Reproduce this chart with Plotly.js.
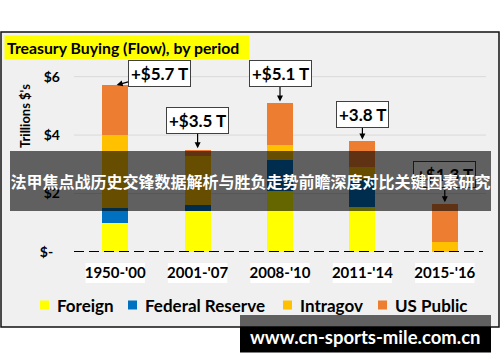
<!DOCTYPE html>
<html>
<head>
<meta charset="utf-8">
<script src="https://cdn.plot.ly/plotly-3.0.1.min.js"></script>
<style>
  html, body { margin: 0; padding: 0; background: #ffffff; }
  #chart { width: 500px; height: 362px; }
</style>
</head>
<body>
<div id="chart"></div>
<script>
// Treasury buying (flow) by period, trillions of dollars, stacked by buyer
const periods = ["1950-'00", "2001-'07", "2008-'10", "2011-'14", "2015-'16"];
const foreign = [1.0, 1.4, 2.1, 1.55, 0];
const fedReserve = [0.5, 0.2, 1.05, 0.95, 0];
const intragov = [2.5, 1.7, 0.52, 0.4, 0.35];
const usPublic = [1.7, 0.2, 1.43, 0.9, 1.3];
const seriesNames = ["Foreign", "Federal Reserve", "Intragov", "US Public"];
const flowLabels = ["+$5.7 T", "+$3.5 T", "+$5.1 T", "+3.8 T", "+$1.3 T"];
const yTickVals = [0, 2, 4, 6];
const yTickText = ["$-\u00a0\u00a0", "$2", "$4", "$6"];
const chartTitle = "Treasury Buying (Flow), by period";
const yTitle = "Trillions $'s";
const bannerText = "法甲焦点战历史交锋数据解析与胜负走势前瞻深度对比关键因素研究";
const siteText = "www.cn-sports-mile.com.cn";

const seriesValues = [foreign, fedReserve, intragov, usPublic];
const seriesColors = ["#ffff00", "#0070c0", "#ffc000", "#ed7d31"];

// canvas geometry (pixels) and pixel -> paper helpers
const W = 500, H = 362;
const M = { l: 74, r: 14, t: 62, b: 110 };
const PW = W - M.l - M.r, PH = H - M.t - M.b;
const px = x => (x - M.l) / PW;
const py = y => (H - M.b - y) / PH;

const boldFont = (size, color) => ({ family: "Lato, 'DejaVu Sans', sans-serif", size: size, weight: "bold", color: color || "#000000" });

const traces = seriesValues.map((vals, k) => ({
  type: "bar",
  x: periods,
  y: vals,
  name: seriesNames[k],
  marker: { color: seriesColors[k], line: { width: 0 } },
  showlegend: false,
  hoverinfo: "skip"
}));

const totals = periods.map((_, i) => seriesValues.reduce((s, arr) => s + arr[i], 0));

// callout offsets (pixels) from each bar top to its label box
const calloutOffsets = [[44, -12], [0, -29], [0, -29], [0, -26], [0, -29]];

const shapes = [];
// chart frame
shapes.push({ type: "rect", xref: "paper", yref: "paper", x0: px(1), x1: px(499), y0: py(327), y1: py(32),
  fillcolor: "#f0f0f0", line: { color: "#111111", width: 1.5 }, layer: "below" });
// horizontal gridlines
yTickVals.filter(v => v > 0).forEach(v => {
  shapes.push({ type: "line", xref: "paper", yref: "y", x0: 0, x1: 1, y0: v, y1: v,
    line: { color: "#d9d9d9", width: 1 }, layer: "below" });
});
// white plates behind the period labels
periods.forEach((p, i) => {
  shapes.push({ type: "rect", xref: "x", yref: "paper", x0: i - 0.36, x1: i + 0.36, y0: py(283), y1: py(263),
    fillcolor: "#ffffff", line: { width: 0 }, layer: "below" });
});
// dashed baseline
shapes.push({ type: "line", xref: "paper", yref: "y", x0: 0, x1: px(483), y0: 0, y1: 0,
  line: { color: "#000000", width: 2, dash: "10px,5px" }, layer: "above" });
// legend swatches
const legendX = [40, 128, 283, 378];
legendX.forEach((x, k) => {
  shapes.push({ type: "rect", xref: "paper", yref: "paper", x0: px(x), x1: px(x + 9), y0: py(309.5), y1: py(300.5),
    fillcolor: seriesColors[k], line: { width: 0 }, layer: "above" });
});
// site banner
shapes.push({ type: "rect", xref: "paper", yref: "paper", x0: px(240), x1: px(491), y0: py(327), y1: py(315),
  fillcolor: "rgba(0,0,0,0.6)", line: { width: 0 }, layer: "above" });
shapes.push({ type: "rect", xref: "paper", yref: "paper", x0: px(240), x1: px(491), y0: py(352.5), y1: py(327),
  fillcolor: "#000000", line: { width: 0 }, layer: "above" });

const annotations = [];
// value callouts
periods.forEach((p, i) => {
  annotations.push({
    x: i, y: totals[i], xref: "x", yref: "y",
    text: flowLabels[i],
    showarrow: true, ax: calloutOffsets[i][0], ay: calloutOffsets[i][1],
    arrowhead: 2, arrowsize: 1, arrowwidth: 1.2, arrowcolor: "#000000", standoff: 1.5,
    bgcolor: "#ffffff", bordercolor: "#404040", borderwidth: 1, borderpad: 2,
    font: boldFont(17)
  });
});
// dark band with headline
annotations.push({
  xref: "paper", yref: "paper", x: px(10), y: py(151), xanchor: "left", yanchor: "top",
  width: 481, height: 60, align: "center", valign: "middle",
  text: bannerText, showarrow: false, borderpad: 0, borderwidth: 0,
  bgcolor: "rgba(0,0,0,0.6)",
  font: { family: "'Noto Sans CJK SC', sans-serif", size: 16, weight: "bold", color: "#ffffff" }
});
// chart title on yellow plate
annotations.push({
  xref: "paper", yref: "paper", x: px(4), y: py(35), xanchor: "left", yanchor: "top",
  width: 240, height: 19, align: "left", valign: "middle",
  text: chartTitle, showarrow: false, bgcolor: "#ffff00", borderpad: 2,
  font: boldFont(15.8)
});
// y axis title
annotations.push({
  xref: "paper", yref: "paper", x: px(25), y: py(116), xanchor: "center", yanchor: "middle",
  text: yTitle, textangle: -90, showarrow: false, font: boldFont(13)
});
// legend labels
legendX.forEach((x, k) => {
  annotations.push({
    xref: "paper", yref: "paper", x: px(x + 15), y: py(305), xanchor: "left", yanchor: "middle",
    text: seriesNames[k], showarrow: false, font: boldFont(17)
  });
});
// site address
annotations.push({
  xref: "paper", yref: "paper", x: px(365), y: py(337), xanchor: "center", yanchor: "middle",
  text: siteText, showarrow: false, font: boldFont(18.5, "#ffffff")
});

const layout = {
  width: W, height: H,
  margin: M,
  paper_bgcolor: "#ffffff",
  plot_bgcolor: "rgba(0,0,0,0)",
  barmode: "stack",
  bargap: 0.684,
  showlegend: false,
  xaxis: {
    type: "category", range: [-0.5, 4.5],
    showgrid: false, zeroline: false, showline: false, ticks: "",
    tickfont: boldFont(15), ticklabelstandoff: 10, fixedrange: true
  },
  yaxis: {
    range: [0, 6.5], tickvals: yTickVals, ticktext: yTickText,
    showgrid: false, zeroline: false, showline: false, ticks: "",
    tickfont: boldFont(14), ticklabelstandoff: 13, fixedrange: true
  },
  shapes: shapes,
  annotations: annotations
};

Plotly.newPlot("chart", traces, layout, { staticPlot: true, displayModeBar: false }).then(gd => {
  // callout connectors are dashed
  gd.querySelectorAll("path.annotation-arrow").forEach(p => { p.style.strokeDasharray = "3,2"; });
});
</script>
</body>
</html>
